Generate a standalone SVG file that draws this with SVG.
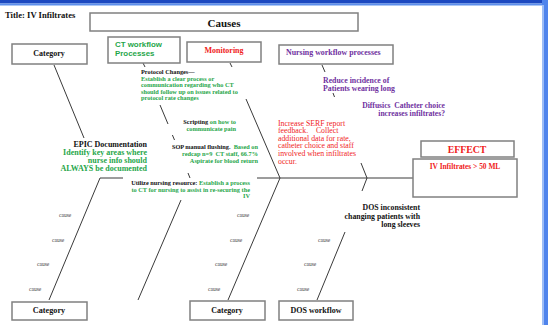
<svg xmlns="http://www.w3.org/2000/svg" width="548" height="325" viewBox="0 0 548 325">
<style>
.box{fill:#fff;stroke:#808080;stroke-width:1.5}
.bone{stroke:#3a3a3a;stroke-width:1;fill:none}
.s{font-family:"Liberation Serif","Times New Roman",serif;font-weight:bold}
.r{font-family:"Liberation Serif","Times New Roman",serif}
.a{font-family:"Liberation Sans",Arial,sans-serif;font-weight:bold}
.k{fill:#111}
.g{fill:#1fa64a}
.red{fill:#f01c1c}
.p{fill:#7030a0}
.c{font-family:"Liberation Serif","Times New Roman",serif;font-size:5.5px;fill:#444}
.n{font-size:6.3px}
.pre{white-space:pre}
</style>
<rect x="0" y="0" width="548" height="325" fill="#fff"/>
<rect x="0" y="0" width="548" height="3.5" fill="#1c48c0"/>
<rect x="0" y="3.5" width="548" height="2" fill="#5d8fec"/>
<rect x="542" y="0" width="6" height="325" fill="#4f84ec"/>
<rect x="542" y="5" width="2" height="320" fill="#9dbdf6"/>

<g id="connectors">
<line class="bone" x1="100" y1="178" x2="123" y2="178"/>
<line class="bone" x1="257" y1="178" x2="413" y2="178"/>
<line class="bone" x1="54" y1="65" x2="84" y2="138"/>
<line class="bone" x1="100" y1="178" x2="49" y2="300"/>
<line class="bone" x1="143" y1="63" x2="145" y2="67"/>
<line class="bone" x1="160" y1="105" x2="168" y2="124"/>
<line class="bone" x1="172.4" y1="135" x2="174.5" y2="140"/>
<line class="bone" x1="188" y1="173" x2="190" y2="178"/>
<line class="bone" x1="181" y1="200" x2="138" y2="300"/>
<line class="bone" x1="230" y1="63" x2="232" y2="67"/>
<line class="bone" x1="246" y1="99" x2="280" y2="178"/>
<line class="bone" x1="280" y1="178" x2="228" y2="300"/>
<line class="bone" x1="322" y1="65" x2="325" y2="72"/>
<line class="bone" x1="333" y1="93" x2="334.5" y2="97"/>
<line class="bone" x1="361" y1="163" x2="367" y2="178"/>
<line class="bone" x1="367" y1="178" x2="362" y2="191"/>
<line class="bone" x1="345" y1="232" x2="317" y2="300"/>
</g>

<g id="title"><text class="s k" x="5" y="18" font-size="8.6">Title: IV Infiltrates</text></g>

<g id="causes"><rect class="box" x="90" y="13" width="268" height="18"/>
<text class="s k" x="224" y="26.5" font-size="11" text-anchor="middle">Causes</text></g>

<g id="category-top"><rect class="box" x="12" y="44" width="75" height="20"/>
<text class="s k" x="49" y="56" font-size="8" text-anchor="middle">Category</text></g>

<g id="ct-workflow"><rect class="box" x="108" y="37" width="72" height="26"/>
<text class="a g" x="115" y="47" font-size="7.9">CT workflow</text>
<text class="a g" x="115" y="55.5" font-size="7.9">Processes</text></g>

<g id="monitoring"><rect class="box" x="187" y="42" width="74" height="20"/>
<text class="s red" x="224" y="53" font-size="8" text-anchor="middle">Monitoring</text></g>

<g id="nursing-workflow"><rect class="box" x="279" y="45" width="114" height="19"/>
<text class="s p" x="286" y="55" font-size="7.9">Nursing workflow processes</text></g>

<g id="effect-header"><rect class="box" x="421" y="141" width="93" height="16"/>
<text class="s red" x="467" y="152.5" font-size="9.8" text-anchor="middle">EFFECT</text></g>

<g id="effect"><rect class="box" x="413" y="159" width="104" height="38"/>
<text class="s red" x="465" y="169" font-size="7.4" text-anchor="middle">IV Infiltrates &gt; 50 ML</text></g>

<g id="category-bottom-left"><rect class="box" x="12" y="302" width="75" height="18"/>
<text class="s k" x="49" y="313" font-size="8.2" text-anchor="middle">Category</text></g>

<g id="category-bottom-mid"><rect class="box" x="190" y="301" width="75" height="19"/>
<text class="s k" x="227" y="312.5" font-size="8" text-anchor="middle">Category</text></g>

<g id="dos-workflow"><rect class="box" x="279" y="301" width="74" height="19"/>
<text class="s k" x="316" y="312.5" font-size="8" text-anchor="middle">DOS workflow</text></g>

<g id="protocol-changes" class="s n">
<text class="k" x="141" y="74">Protocol Changes—</text>
<text class="g" x="141" y="81">Establish a clear process or</text>
<text class="g" x="141" y="87.3">communication regarding who CT</text>
<text class="g" x="141" y="93.6">should follow up on issues related to</text>
<text class="g" x="141" y="100">protocol rate changes</text>
</g>

<g id="scripting" class="s n" text-anchor="end">
<text x="236" y="124"><tspan class="k">Scripting </tspan><tspan class="g">on how to</tspan></text>
<text class="g" x="236" y="131">communicate pain</text>
</g>

<g id="sop-flushing" class="s n" text-anchor="end">
<text class="pre" x="258" y="149"><tspan class="k">SOP manual flushing.  </tspan><tspan class="g">Based on</tspan></text>
<text class="g pre" x="258" y="156">redcap n=9  CT staff, 66.7%</text>
<text class="g" x="258" y="162.5">Aspirate for blood return</text>
</g>

<g id="utilize-nursing" class="s n" text-anchor="end">
<text x="250" y="185"><tspan class="k">Utilize nursing resource: </tspan><tspan class="g">Establish a process</tspan></text>
<text class="g" x="250" y="191.5">to CT for nursing to assist in re-securing the</text>
<text class="g" x="250" y="198">IV</text>
</g>

<g id="epic-documentation" class="s" font-size="8" text-anchor="end">
<text class="k" x="147" y="147">EPIC Documentation</text>
<text class="g" x="147" y="155">Identify key areas where</text>
<text class="g" x="147" y="163">nurse info should</text>
<text class="g" x="147" y="171">ALWAYS be documented</text>
</g>

<g id="serf-feedback" class="r red" font-size="7.8">
<text x="278" y="125.5">Increase SERF report</text>
<text class="pre" x="278" y="133">feedback.    Collect</text>
<text x="278" y="140.8">additional data for rate,</text>
<text x="278" y="148.4">catheter choice and staff</text>
<text x="278" y="156">involved when infiltrates</text>
<text x="278" y="163.6">occur.</text>
</g>

<g id="reduce-incidence" class="s p" font-size="7.8">
<text x="323" y="82.5">Reduce incidence of</text>
<text x="323" y="90.5">Patients wearing long</text>
</g>

<g id="diffusics" class="s p" font-size="7.6" text-anchor="end">
<text class="pre" x="445" y="107.5">Diffusics  Catheter choice</text>
<text x="445" y="115.5">increases infiltrates?</text>
</g>

<g id="dos-inconsistent" class="s k" font-size="7.8" text-anchor="end">
<text x="420" y="210">DOS inconsistent</text>
<text x="420" y="218.5">changing patients with</text>
<text x="420" y="227">long sleeves</text>
</g>

<g id="causes-left">
<text class="c" x="59" y="217">cause</text>
<text class="c" x="52" y="242">cause</text>
<text class="c" x="37" y="266">cause</text>
<text class="c" x="29" y="291">cause</text>
</g>
<g id="causes-mid">
<text class="c" x="237" y="217">cause</text>
<text class="c" x="230" y="242">cause</text>
<text class="c" x="215" y="266">cause</text>
<text class="c" x="208" y="291">cause</text>
</g>
<g id="causes-dos">
<text class="c" x="318" y="242">cause</text>
<text class="c" x="304" y="266">cause</text>
<text class="c" x="297" y="291">cause</text>
</g>
</svg>
